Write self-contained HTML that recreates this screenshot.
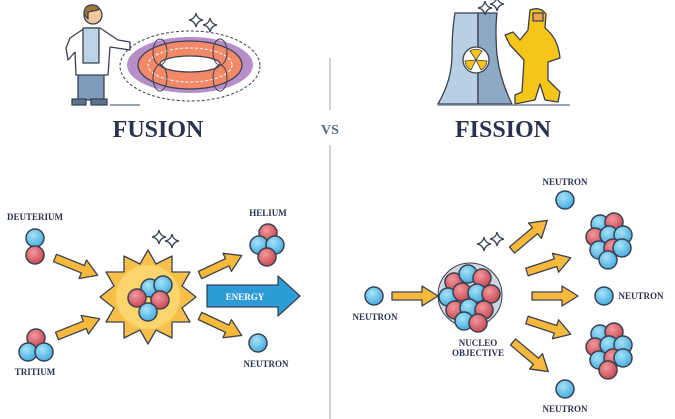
<!DOCTYPE html>
<html><head><meta charset="utf-8"><style>
html,body{margin:0;padding:0;background:#fff;width:675px;height:419px;overflow:hidden}
svg{display:block}
.t{font-family:"Liberation Serif",serif;font-weight:bold;fill:#2d3150}
.l{font-family:"Liberation Serif",serif;font-weight:bold;fill:#2d3150;font-size:9px;text-anchor:middle}
</style></head><body>
<svg width="675" height="419" viewBox="0 0 675 419" xmlns="http://www.w3.org/2000/svg">
<defs>
<radialGradient id="b" cx="0.4" cy="0.35" r="0.7"><stop offset="0" stop-color="#a8e2f7"/><stop offset="1" stop-color="#3fa9de"/></radialGradient>
<radialGradient id="r" cx="0.4" cy="0.35" r="0.7"><stop offset="0" stop-color="#f09a9e"/><stop offset="1" stop-color="#c9434f"/></radialGradient>
<symbol id="B" viewBox="-10 -10 20 20"><circle r="9" fill="url(#b)" stroke="#3a4150" stroke-width="1.5"/></symbol>
<symbol id="R" viewBox="-10 -10 20 20"><circle r="9" fill="url(#r)" stroke="#3a4150" stroke-width="1.5"/></symbol>
<g id="arr"><path d="M0,-4 L30,-4 L30,-10 L46,0 L30,10 L30,4 L0,4 Z" fill="#f6b93b" stroke="#3a4150" stroke-width="1.3" stroke-linejoin="round"/></g>
<g id="sp"><path d="M0,-7 Q1,-1 7,0 Q1,1 0,7 Q-1,1 -7,0 Q-1,-1 0,-7Z" fill="#fff" stroke="#3a4150" stroke-width="1.2"/></g>
</defs>

<!-- dividers -->
<line x1="330" y1="58" x2="330" y2="110" stroke="#9aa4b5" stroke-width="1"/>
<line x1="330" y1="145" x2="330" y2="419" stroke="#9aa4b5" stroke-width="1"/>

<!-- titles -->
<text class="t" x="158" y="137" font-size="24" text-anchor="middle">FUSION</text>
<text class="t" x="330" y="134" font-size="14" text-anchor="middle" fill="#5b6a8a" style="fill:#5b6a8a">VS</text>
<text class="t" x="503" y="137" font-size="24" text-anchor="middle">FISSION</text>

<!-- scientist -->
<g stroke="#3a4150" stroke-width="1.3" stroke-linejoin="round">
<ellipse cx="95" cy="85" rx="26" ry="0" />
<rect x="78" y="62" width="26" height="38" fill="#7f9cbc"/>
<path d="M70,38 L85,28 L100,28 L118,40 L130,42 L130,50 L110,47 L108,75 L76,75 L75,52 L68,60 L66,48Z" fill="#fff"/>
<rect x="83" y="28" width="16" height="35" fill="#bcd3e6"/>
<circle cx="93" cy="15" r="9" fill="#f2c89a"/>
<path d="M84,14 Q84,4 94,5 Q100,6 98,10 L88,12 L88,19 Z" fill="#a4743c"/>
<rect x="72" y="99" width="14" height="6" fill="#5c7290"/>
<rect x="91" y="99" width="16" height="6" fill="#5c7290"/>
</g>
<line x1="110" y1="105" x2="140" y2="105" stroke="#7a8396" stroke-width="1.5"/>

<!-- torus -->
<ellipse cx="190" cy="66" rx="70" ry="35" fill="none" stroke="#3a4150" stroke-width="1" stroke-dasharray="3,2"/>
<ellipse cx="190" cy="65" rx="63" ry="28" fill="#b68fc9"/>
<ellipse cx="190" cy="65" rx="52" ry="24" fill="#f28a6a" stroke="#3a4150" stroke-width="1.3"/>
<ellipse cx="190" cy="65" rx="42" ry="17" fill="none" stroke="#fff" stroke-width="1" stroke-dasharray="3,2"/>
<ellipse cx="190" cy="64" rx="30" ry="8" fill="#fff" stroke="#3a4150" stroke-width="1.3"/>
<g fill="none" stroke="#3a4150" stroke-width="1"><ellipse cx="160" cy="52" rx="7" ry="13"/><ellipse cx="220" cy="52" rx="7" ry="13"/><ellipse cx="160" cy="78" rx="7" ry="13"/><ellipse cx="220" cy="78" rx="7" ry="13"/></g>
<use href="#sp" x="196" y="20"/><use href="#sp" x="210" y="25"/>

<!-- cooling tower -->
<g stroke="#3a4150" stroke-width="1.3">
<path d="M455,13 L478,13 L478,104 L438,104 Q452,80 452,55 Q452,30 455,13Z" fill="#b9d0e4"/>
<path d="M478,13 L497,13 Q495,30 497,55 Q500,80 512,104 L478,104Z" fill="#8ea9c4"/>
<circle cx="476" cy="60" r="13" fill="#fff"/>
<path d="M476,60 L470,51 A11,11 0 0 1 482,51Z M476,60 L487,61 A11,11 0 0 1 481,70Z M476,60 L471,70 A11,11 0 0 1 465,61Z" fill="#f5c518" stroke-width="0.8"/>
</g>
<use href="#sp" x="485" y="8"/><use href="#sp" x="497" y="4"/>
<!-- hazmat person -->
<g stroke="#3a4150" stroke-width="1.3" stroke-linejoin="round" fill="#f5c518">
<path d="M530,10 Q540,6 546,14 L545,28 Q558,38 560,58 L548,62 L548,80 L560,92 L558,102 L545,100 L540,84 L535,100 L515,104 L515,95 L522,92 L524,60 L510,45 L505,35 L513,32 L520,40 L528,30Z"/>
<rect x="533" y="13" width="10" height="8" fill="#f0a24e"/>
</g>
<line x1="438" y1="105" x2="570" y2="105" stroke="#7a8396" stroke-width="1.5"/>

<!-- fusion bottom -->
<text class="l" x="35" y="220">DEUTERIUM</text>
<use href="#B" x="25" y="228" width="20" height="20"/>
<use href="#R" x="25" y="245" width="20" height="20"/>
<use href="#R" x="26" y="328" width="20" height="20"/>
<use href="#B" x="18" y="342" width="20" height="20"/>
<use href="#B" x="34" y="342" width="20" height="20"/>
<text class="l" x="35" y="375">TRITIUM</text>
<use href="#arr" transform="translate(55,258) rotate(22)"/>
<use href="#arr" transform="translate(57,336) rotate(-22)"/>

<path d="M148,250 L156,264 L172,256 L172,272 L190,272 L182,286 L196,297 L182,308 L190,322 L172,322 L172,338 L156,330 L148,344 L140,330 L124,338 L124,322 L106,322 L114,308 L100,297 L114,286 L106,272 L124,272 L124,256 L140,264Z" fill="#f8c04a" stroke="#3a4150" stroke-width="1.3" stroke-linejoin="round"/>
<circle cx="148" cy="297" r="32" fill="#fbd56b"/>
<use href="#B" x="140" y="278" width="20" height="20"/>
<use href="#B" x="153" y="275" width="20" height="20"/>
<use href="#R" x="127" y="288" width="20" height="20"/>
<use href="#R" x="150" y="290" width="20" height="20"/>
<use href="#B" x="138" y="302" width="20" height="20"/>
<use href="#sp" x="159" y="237"/><use href="#sp" x="172" y="241"/>

<use href="#arr" transform="translate(200,275) rotate(-25)"/>
<use href="#arr" transform="translate(200,316) rotate(25)"/>
<path d="M207,285 L278,285 L278,276 L300,296 L278,316 L278,307 L207,307Z" fill="#2d9bd6" stroke="#3a4150" stroke-width="1.3" stroke-linejoin="round"/>
<text x="245" y="300" font-family="Liberation Serif,serif" font-weight="bold" font-size="9" fill="#fff" text-anchor="middle">ENERGY</text>

<text class="l" x="268" y="216">HELIUM</text>
<use href="#R" x="258" y="223" width="20" height="20"/>
<use href="#B" x="249" y="235" width="20" height="20"/>
<use href="#B" x="265" y="235" width="20" height="20"/>
<use href="#R" x="257" y="247" width="20" height="20"/>
<use href="#B" x="248" y="333" width="20" height="20"/>
<text class="l" x="266" y="367">NEUTRON</text>

<!-- fission bottom -->
<use href="#B" x="364" y="286" width="20" height="20"/>
<text class="l" x="375" y="320">NEUTRON</text>
<use href="#arr" transform="translate(392,296)"/>
<circle cx="470" cy="295" r="32" fill="#cfd8e0" stroke="#3a4150" stroke-width="1"/>
<g>
<use href="#R" x="444" y="272" width="20" height="20"/><use href="#B" x="458" y="264" width="20" height="20"/><use href="#R" x="472" y="268" width="20" height="20"/>
<use href="#B" x="438" y="287" width="20" height="20"/><use href="#R" x="452" y="282" width="20" height="20"/><use href="#B" x="467" y="283" width="20" height="20"/><use href="#R" x="481" y="284" width="20" height="20"/>
<use href="#R" x="445" y="300" width="20" height="20"/><use href="#B" x="459" y="298" width="20" height="20"/><use href="#R" x="474" y="300" width="20" height="20"/>
<use href="#B" x="454" y="311" width="20" height="20"/><use href="#R" x="468" y="313" width="20" height="20"/>
</g>
<use href="#sp" x="484" y="244"/><use href="#sp" x="497" y="239"/>
<text class="l" x="478" y="346">NUCLEO</text>
<text class="l" x="478" y="356">OBJECTIVE</text>

<use href="#arr" transform="translate(512,250) rotate(-40)"/>
<use href="#arr" transform="translate(527,272) rotate(-18)"/>
<use href="#arr" transform="translate(532,296)"/>
<use href="#arr" transform="translate(527,320) rotate(18)"/>
<use href="#arr" transform="translate(513,342) rotate(40)"/>

<text class="l" x="565" y="185">NEUTRON</text>
<use href="#B" x="555" y="190" width="20" height="20"/>
<g>
<use href="#B" x="590" y="214" width="20" height="20"/><use href="#R" x="604" y="212" width="20" height="20"/>
<use href="#R" x="585" y="227" width="20" height="20"/><use href="#B" x="599" y="225" width="20" height="20"/><use href="#B" x="613" y="225" width="20" height="20"/>
<use href="#B" x="589" y="240" width="20" height="20"/><use href="#R" x="603" y="238" width="20" height="20"/><use href="#B" x="612" y="238" width="20" height="20"/>
<use href="#B" x="598" y="250" width="20" height="20"/>
</g>
<use href="#B" x="594" y="286" width="20" height="20"/>
<text class="l" x="641" y="299">NEUTRON</text>
<g>
<use href="#B" x="590" y="324" width="20" height="20"/><use href="#R" x="604" y="322" width="20" height="20"/>
<use href="#R" x="585" y="337" width="20" height="20"/><use href="#B" x="599" y="335" width="20" height="20"/><use href="#B" x="613" y="335" width="20" height="20"/>
<use href="#B" x="589" y="350" width="20" height="20"/><use href="#R" x="603" y="348" width="20" height="20"/><use href="#B" x="613" y="348" width="20" height="20"/>
<use href="#R" x="598" y="360" width="20" height="20"/>
</g>
<use href="#B" x="555" y="379" width="20" height="20"/>
<text class="l" x="565" y="412">NEUTRON</text>
</svg>
</body></html>
